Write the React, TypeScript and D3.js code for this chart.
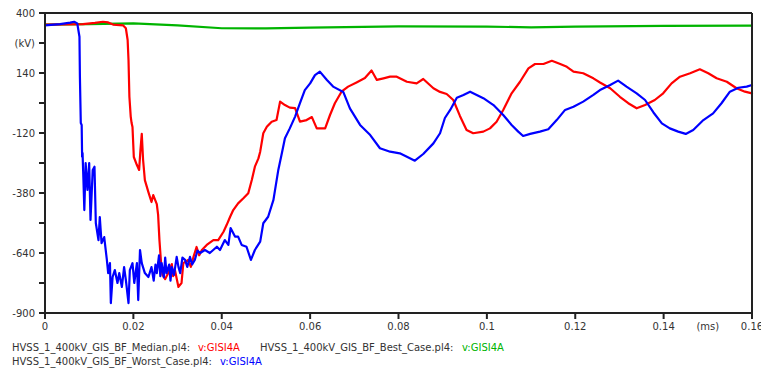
import React from "react";
import * as d3 from "d3";

// Time axis (ms) and voltage (kV) samples for each simulation run
const medianT = [0, 0.0086, 0.0113, 0.0131, 0.0143, 0.0154, 0.0177, 0.0183, 0.0187, 0.0189, 0.0191, 0.0194, 0.0196, 0.0198, 0.0201, 0.0208, 0.0213, 0.0216, 0.0219, 0.0222, 0.0226, 0.0234, 0.0241, 0.0245, 0.0253, 0.0256, 0.0259, 0.0263, 0.0266, 0.0272, 0.0279, 0.0287, 0.029, 0.0294, 0.0302, 0.0309, 0.0313, 0.0324, 0.033, 0.0336, 0.0343, 0.0349, 0.0355, 0.0366, 0.0381, 0.0392, 0.0404, 0.0411, 0.0419, 0.0426, 0.0437, 0.0449, 0.046, 0.0468, 0.0475, 0.0483, 0.0487, 0.0494, 0.0502, 0.0513, 0.0524, 0.0532, 0.0543, 0.0554, 0.0566, 0.0577, 0.0592, 0.0604, 0.0615, 0.0634, 0.0645, 0.0656, 0.0671, 0.0686, 0.0705, 0.0724, 0.0739, 0.0751, 0.0766, 0.0781, 0.0796, 0.0819, 0.0841, 0.0856, 0.0879, 0.0894, 0.0909, 0.0924, 0.0939, 0.0954, 0.0969, 0.0992, 0.1007, 0.1022, 0.1037, 0.1056, 0.1075, 0.1094, 0.1109, 0.1128, 0.1147, 0.1166, 0.1181, 0.1196, 0.1218, 0.1241, 0.1256, 0.1279, 0.1301, 0.132, 0.1339, 0.1358, 0.138, 0.1399, 0.1418, 0.1437, 0.146, 0.1482, 0.1501, 0.152, 0.1543, 0.1565, 0.1584, 0.16];
const medianV = [350, 352, 357, 362, 359, 350, 346, 334, 283, 196, 37, -49, -77, -94, -224, -259, -280, -194, -124, -237, -324, -376, -419, -389, -428, -475, -584, -692, -735, -753, -727, -688, -740, -714, -787, -770, -684, -670, -700, -657, -614, -650, -627, -605, -584, -584, -548, -519, -483, -454, -425, -403, -381, -324, -266, -230, -201, -121, -93, -71, -64, 16, 1, -10, -12, -71, -64, -51, -100, -100, -42, 9, 59, 81, 99, 118, 151, 110, 117, 124, 124, 102, 95, 114, 74, 58, 49, 23, -46, -107, -121, -114, -100, -71, -20, 52, 102, 160, 179, 179, 193, 179, 167, 146, 139, 117, 99, 74, 37, 9, -13, 1, 23, 52, 95, 124, 139, 156, 139, 117, 102, 74, 59, 52];

const bestT = [0, 0.01, 0.02, 0.03, 0.04, 0.05, 0.06, 0.08, 0.1, 0.11, 0.12, 0.14, 0.16];
const bestV = [350, 352, 355, 346, 334, 333, 337, 342, 341, 338, 341, 344, 345];

const worstT = [0, 0.0034, 0.0057, 0.0066, 0.0073, 0.0078, 0.0079, 0.0081, 0.0083, 0.0084, 0.0085, 0.0087, 0.0089, 0.0092, 0.0096, 0.01, 0.0103, 0.0108, 0.0112, 0.0115, 0.0121, 0.0124, 0.0128, 0.0134, 0.014, 0.0143, 0.0147, 0.0149, 0.0153, 0.0158, 0.0164, 0.0168, 0.0174, 0.0179, 0.0183, 0.0189, 0.0192, 0.0198, 0.0202, 0.0208, 0.0211, 0.0215, 0.0219, 0.0226, 0.0234, 0.0241, 0.0246, 0.025, 0.0253, 0.0258, 0.0261, 0.0264, 0.0269, 0.0272, 0.0275, 0.0281, 0.0284, 0.0287, 0.0292, 0.0298, 0.0302, 0.0306, 0.0311, 0.0317, 0.0322, 0.0328, 0.0333, 0.0339, 0.0345, 0.0351, 0.0362, 0.0373, 0.0389, 0.0396, 0.0407, 0.0415, 0.042, 0.043, 0.0437, 0.0445, 0.0456, 0.0466, 0.0475, 0.0487, 0.0494, 0.0505, 0.0517, 0.0528, 0.0536, 0.0543, 0.0554, 0.0566, 0.0577, 0.0588, 0.06, 0.0611, 0.0622, 0.0638, 0.0652, 0.0675, 0.069, 0.0713, 0.0736, 0.0758, 0.0781, 0.0803, 0.0819, 0.0837, 0.0856, 0.0879, 0.0894, 0.0905, 0.0917, 0.0932, 0.0947, 0.0962, 0.0977, 0.0992, 0.1015, 0.1037, 0.1056, 0.1071, 0.1082, 0.1098, 0.112, 0.1139, 0.1158, 0.1177, 0.1196, 0.1218, 0.1241, 0.1256, 0.1279, 0.1297, 0.1316, 0.1339, 0.1358, 0.1377, 0.1396, 0.1414, 0.1433, 0.145, 0.1467, 0.149, 0.1512, 0.1531, 0.155, 0.1569, 0.1588, 0.16];
const worstV = [346, 352, 358, 362, 355, 297, 124, -77, -85, -223, -207, -324, -454, -250, -367, -250, -497, -280, -266, -510, -584, -484, -597, -571, -670, -727, -684, -857, -744, -714, -770, -727, -787, -701, -757, -857, -714, -684, -770, -684, -844, -627, -684, -727, -744, -701, -760, -690, -727, -650, -740, -684, -745, -660, -727, -690, -760, -701, -735, -657, -700, -727, -660, -670, -700, -657, -690, -670, -630, -640, -627, -640, -613, -627, -584, -605, -532, -569, -569, -605, -613, -670, -627, -591, -511, -483, -410, -280, -208, -143, -100, -49, 9, 66, 95, 131, 146, 110, 81, 58, -13, -85, -129, -186, -201, -208, -223, -240, -211, -165, -121, -55, -20, 33, 45, 59, 45, 31, 1, -42, -85, -114, -133, -124, -114, -104, -64, -20, -6, 16, 45, 66, 88, 107, 81, 52, 23, -31, -78, -100, -114, -124, -107, -64, -35, 9, 59, 76, 81, 88];

const yTicks = [400, 270, 140, 10, -120, -250, -380, -510, -640, -770, -900];
const yLabels = ["400", "(kV)", "140", "", "-120", "", "-380", "", "-640", "", "-900"];
const xTicks = [0, 0.02, 0.04, 0.06, 0.08, 0.1, 0.12, 0.14, 0.16];
const xUnit = { at: 0.15, text: "(ms)" };

const fileNames = [
  "HVSS_1_400kV_GIS_BF_Median.pl4:",
  "HVSS_1_400kV_GIS_BF_Best_Case.pl4:",
  "HVSS_1_400kV_GIS_BF_Worst_Case.pl4:",
];
const varName = "v:GISI4A";

const RED = "#ff0000";
const GREEN = "#00b400";
const BLUE = "#0000ff";

export default function App() {
  const W = 761;
  const H = 371;
  const left = 45, right = 752, top = 13, bottom = 313;
  const x = d3.scaleLinear().domain([0, 0.16]).range([left, right]);
  const y = d3.scaleLinear().domain([-900, 400]).range([bottom, top]);

  const line = d3
    .line<[number, number]>()
    .x((d) => x(d[0]))
    .y((d) => y(d[1]));

  const zip = (t: number[], v: number[]) => t.map((ti, i) => [ti, v[i]] as [number, number]);

  const series = [
    { pts: zip(bestT, bestV), color: GREEN },
    { pts: zip(medianT, medianV), color: RED },
    { pts: zip(worstT, worstV), color: BLUE },
  ];

  const font = "'DejaVu Sans', Verdana, sans-serif";
  const axisColor = "#222";
  const textColor = "#333";

  return (
    <svg
      width={W}
      height={H}
      style={{ position: "absolute", left: 0, top: 0, background: "#fff" }}
      fontFamily={font}
    >
      <rect x={0} y={0} width={W} height={H} fill="#fff" />
      {/* curves */}
      <g fill="none" strokeWidth={2.2} strokeLinejoin="round" strokeLinecap="round">
        {series.map((s, i) => (
          <path key={i} d={line(s.pts) || ""} stroke={s.color} />
        ))}
      </g>
      {/* frame */}
      <g stroke={axisColor} strokeWidth={2} fill="none">
        <line x1={left} y1={top} x2={right} y2={top} />
        <line x1={right} y1={top} x2={right} y2={bottom} />
        <line x1={left} y1={top - 1} x2={left} y2={bottom + 1} />
        <line x1={left - 1} y1={bottom} x2={right + 1} y2={bottom} />
      </g>
      {/* y axis */}
      <g>
        {yTicks.map((v, i) => (
          <g key={i}>
            <line x1={left - 6} x2={left} y1={y(v)} y2={y(v)} stroke={axisColor} strokeWidth={2} />
            {yLabels[i] && (
              <text
                x={left - 10}
                y={y(v)}
                dy="0.35em"
                textAnchor="end"
                fontSize={10}
                fill={textColor}
              >
                {yLabels[i]}
              </text>
            )}
          </g>
        ))}
      </g>
      {/* x axis */}
      <g>
        {xTicks.map((t, i) => (
          <g key={i}>
            <line x1={x(t)} x2={x(t)} y1={bottom} y2={bottom + 6} stroke={axisColor} strokeWidth={2} />
            <text x={x(t)} y={bottom + 17} textAnchor="middle" fontSize={10} fill={textColor}>
              {d3.format("~g")(t)}
            </text>
          </g>
        ))}
        <text x={x(xUnit.at)} y={bottom + 17} textAnchor="middle" fontSize={10} fill={textColor}>
          {xUnit.text}
        </text>
      </g>
      {/* legend */}
      <g fontSize={10}>
        <text x={12} y={351} fill={textColor}>{fileNames[0]}</text>
        <text x={198} y={351} fill={RED}>{varName}</text>
        <text x={260} y={351} fill={textColor}>{fileNames[1]}</text>
        <text x={462} y={351} fill={GREEN}>{varName}</text>
        <text x={12} y={365} fill={textColor}>{fileNames[2]}</text>
        <text x={220} y={365} fill={BLUE}>{varName}</text>
      </g>
    </svg>
  );
}
